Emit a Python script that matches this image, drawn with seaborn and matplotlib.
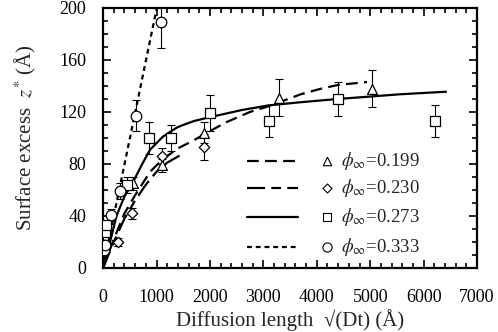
import matplotlib
matplotlib.use("Agg")
import matplotlib.pyplot as plt
import seaborn as sns
import numpy as np
import pandas as pd
from matplotlib.ticker import MultipleLocator

# ---------------- data ----------------
labels = ["0.199", "0.230", "0.273", "0.333"]

# measured points: x (Å), z* (Å), error (Å)
tri_x = [565, 1098, 1897, 3296, 5032]
tri_y = [65, 79, 104, 131, 138]
tri_e = [5, 5, 8, 14, 14]

dia_x = [280, 540, 1098, 1897]
dia_y = [20, 42, 86, 93]
dia_e = [3, 4, 6, 10]

sq_x = [40, 56, 455, 850, 1273, 2004, 3109, 4395, 6217]
sq_y = [28, 33, 64, 100, 100, 119, 113, 130, 113]
sq_e = [3, 3, 6, 12, 10, 14, 12, 13, 12]

cir_x = [25, 32, 150, 318, 618, 1086]
cir_y = [14, 18, 41, 59, 117, 189]
cir_e = [2, 2, 4, 6, 12, 20]

# fitted curves
c199_x = [0, 200, 400, 600, 880, 1100, 1400, 1690, 1900, 2300, 2750, 3070, 3700, 4060, 4400, 4940]
c199_y = [0, 22, 42, 56, 74, 83, 92, 98, 103, 112, 120, 124, 133.6, 137.7, 140.8, 143]

c230_x = [0, 200, 400, 600, 800, 1000, 1200, 1500]
c230_y = [0, 20, 38, 52, 64, 74, 81, 88]

c273_x = [0, 100, 250, 400, 560, 720, 880, 1120, 1380, 1500, 1700, 2000, 2600, 3090, 3700, 4400, 5560, 6435]
c273_y = [0, 15, 40, 55, 66, 79, 91, 101, 108, 110, 113, 116, 121.5, 125, 127.5, 130, 133.6, 135.6]

c333_x = [0, 1005]
c333_y = [0, 200]

# ---------------- style ----------------
sns.set_theme(style="ticks")
plt.rcParams["font.family"] = ["Liberation Serif", "DejaVu Serif"]
plt.rcParams["mathtext.fontset"] = "stix"
plt.rcParams["lines.scale_dashes"] = False

fig = plt.figure(figsize=(4.98, 3.32), dpi=100)
ax = fig.add_axes([0.207, 0.193, 0.751, 0.783])

curve_styles = {
    "0.199": dict(dashes=(8.5, 4.5)),
    "0.230": dict(dashes=(13, 4.5, 7, 4.5)),
    "0.273": dict(dashes=()),
    "0.333": dict(dashes=(3.5, 2.8)),
}
curves = {
    "0.199": (c199_x, c199_y),
    "0.230": (c230_x, c230_y),
    "0.273": (c273_x, c273_y),
    "0.333": (c333_x, c333_y),
}
for lab in labels:
    cx, cy = curves[lab]
    df = pd.DataFrame({"x": cx, "y": cy})
    sns.lineplot(data=df, x="x", y="y", ax=ax, color="black",
                 lw=1.6, sort=False, estimator=None)
    ln = ax.lines[-1]
    d = curve_styles[lab]["dashes"]
    if d:
        ln.set_dashes(d)
    ln.set_solid_capstyle("butt")
    ln.set_dash_capstyle("butt")

series = [
    ("0.199", tri_x, tri_y, tri_e, "^", 50),
    ("0.230", dia_x, dia_y, dia_e, "D", 28),
    ("0.273", sq_x, sq_y, sq_e, "s", 46),
    ("0.333", cir_x, cir_y, cir_e, "o", 58),
]
for lab, xs, ys, es, mk, s in series:
    ax.errorbar(xs, ys, yerr=es, fmt="none", ecolor="black", elinewidth=0.8,
                capsize=2.6, capthick=0.8, zorder=3, clip_on=True)
    df = pd.DataFrame({"x": xs, "y": ys})
    sns.scatterplot(data=df, x="x", y="y", ax=ax, marker=mk, s=s,
                    facecolor="white", edgecolor="black", linewidth=0.9,
                    zorder=4)

# manual legend
rows = [0.412, 0.308, 0.196, 0.081]
for (lab, xs, ys, es, mk, s), yy in zip(series, rows):
    ln, = ax.plot([0.385, 0.521], [yy, yy], transform=ax.transAxes,
                  color="black", lw=1.6)
    d = curve_styles[lab]["dashes"]
    if d:
        ln.set_dashes(d)
    ln.set_dash_capstyle("butt")
    ax.scatter([0.599], [yy], transform=ax.transAxes, marker=mk, s=s * 0.75,
               facecolor="white", edgecolor="black", linewidth=0.8, zorder=5)
    ax.text(0.637, yy, r"$\phi_{\infty}$=" + lab, transform=ax.transAxes,
            fontsize=13.5, va="center", ha="left")

ax.set_xlim(0, 7000)
ax.set_ylim(0, 200)
ax.xaxis.set_major_locator(MultipleLocator(1000))
ax.xaxis.set_minor_locator(MultipleLocator(200))
ax.yaxis.set_major_locator(MultipleLocator(40))
ax.yaxis.set_minor_locator(MultipleLocator(10))
ax.tick_params(which="both", direction="in", top=True, right=True,
               colors="black", width=1.2)
ax.tick_params(which="major", length=6)
ax.tick_params(which="minor", length=3.5)
ax.tick_params(axis="x", which="major", pad=15, labelsize=13)
ax.tick_params(axis="y", which="major", pad=12, labelsize=13)
for sp in ax.spines.values():
    sp.set_visible(True)
    sp.set_linewidth(1.6)
    sp.set_color("black")

ax.set_xlabel("Diffusion length  √(Dt) (Å)", fontsize=15)
ax.set_ylabel(r"Surface excess  $z^{*}$ (Å)", fontsize=15)
ax.xaxis.set_label_coords(0.5, -0.158)
ax.yaxis.set_label_coords(-0.174, 0.5)

fig.savefig("out.png", dpi=100)
